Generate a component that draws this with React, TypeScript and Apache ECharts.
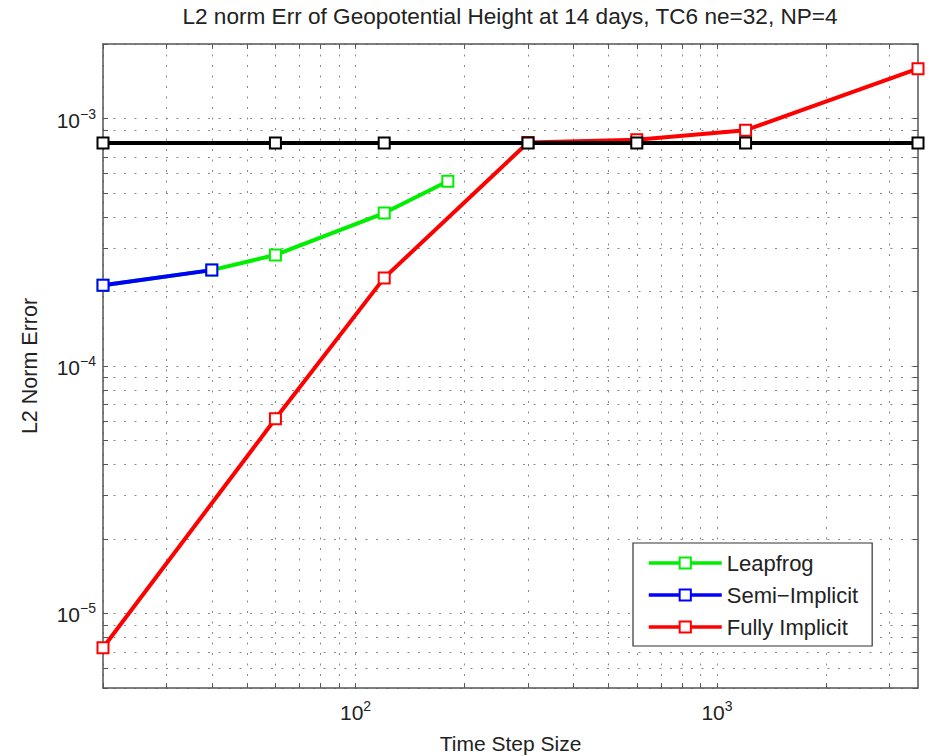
import React, { useEffect, useRef } from "react";
import * as echarts from "echarts";

const titleText = "L2 norm Err of Geopotential Height at 14 days, TC6 ne=32, NP=4";
const xName = "Time Step Size";
const yName = "L2 Norm Error";

const seriesNames = ["Leapfrog", "Semi\u2212Implicit", "Fully Implicit"];

const leapfrogX = [20, 40, 60, 120, 180];
const leapfrogY = [2.12e-4, 2.44e-4, 2.81e-4, 4.15e-4, 5.58e-4];

const semiX = [20, 40];
const semiY = [2.12e-4, 2.44e-4];

const fullyX = [20, 60, 120, 300, 600, 1200, 3600];
const fullyY = [7.27e-6, 6.12e-5, 2.27e-4, 8.0e-4, 8.21e-4, 8.97e-4, 1.59e-3];

const refX = [20, 60, 120, 300, 600, 1200, 3600];
const refY = [7.97e-4, 7.97e-4, 7.97e-4, 7.97e-4, 7.97e-4, 7.97e-4, 7.97e-4];

const xMin = 20;
const xMax = 3600;
const yMin = 5e-6;
const yMax = 2e-3;

const xGridValues = [20, 30, 40, 50, 60, 70, 80, 90, 100, 200, 300, 400, 500, 600, 700, 800, 900, 1000, 2000, 3000];
const yGridValues = [
  5e-6, 6e-6, 7e-6, 8e-6, 9e-6,
  1e-5, 2e-5, 3e-5, 4e-5, 5e-5, 6e-5, 7e-5, 8e-5, 9e-5,
  1e-4, 2e-4, 3e-4, 4e-4, 5e-4, 6e-4, 7e-4, 8e-4, 9e-4,
  1e-3, 2e-3,
];
const xLabelValues = [100, 1000];
const yLabelValues = [1e-5, 1e-4, 1e-3];

const FONT = "Liberation Sans";
const TEXT = "#222";
const AXIS = "#555";

function zip(xs: number[], ys: number[]) {
  return xs.map((x, i) => [x, ys[i]]);
}

function powLabel(v: number) {
  const l = Math.log10(v);
  const e = Math.round(l);
  if (Math.abs(l - e) > 1e-6) return "";
  const es = e < 0 ? "\u2212" + -e : String(e);
  return `{b|10}{s|${es}}`;
}

const rich = {
  b: { fontSize: 21, fontFamily: FONT, color: TEXT, lineHeight: 24, verticalAlign: "bottom" },
  s: { fontSize: 14, fontFamily: FONT, color: TEXT, lineHeight: 14, verticalAlign: "top" },
};

const gridLine = { show: true, lineStyle: { color: "#8a8a8a", width: 1, type: [2, 8.5] } };

export default function App() {
  const ref = useRef<HTMLDivElement>(null);
  useEffect(() => {
    if (!ref.current) return;
    const chart = echarts.init(ref.current, null, { renderer: "svg" });
    const lineSeries = (name: string, data: number[][], color: string, z: number) => ({
      name,
      type: "line",
      data,
      z,
      symbol: "emptyRect",
      symbolSize: 11,
      lineStyle: { color, width: 4 },
      itemStyle: { color, borderColor: color, borderWidth: 3 },
      emphasis: { disabled: true },
    });
    chart.setOption({
      animation: false,
      backgroundColor: "#fff",
      title: {
        text: titleText,
        left: 510,
        textAlign: "center",
        top: 5,
        padding: 0,
        textStyle: { fontFamily: FONT, fontSize: 22.6, fontWeight: "normal", color: TEXT },
      },
      grid: { left: 103, top: 44, width: 815, height: 644, containLabel: false, outerBoundsMode: "none" },
      legend: {
        data: seriesNames,
        orient: "vertical",
        left: 633,
        top: 543,
        padding: [9, 14, 8, 14],
        itemGap: 10,
        itemWidth: 73,
        itemHeight: 14,
        borderColor: "#333",
        borderWidth: 1.2,
        backgroundColor: "#fff",
        lineStyle: { width: 3.5 },
        itemStyle: { borderWidth: 3 },
        textStyle: { fontFamily: FONT, fontSize: 22, color: TEXT },
      },
      xAxis: [
        {
          type: "log",
          min: xMin,
          max: xMax,
          position: "bottom",
          name: xName,
          nameLocation: "middle",
          nameGap: 45,
          nameTextStyle: { fontFamily: FONT, fontSize: 21, color: TEXT },
          axisLine: { show: true, lineStyle: { color: AXIS, width: 1.5 } },
          axisTick: { show: true, inside: true, length: 5, customValues: xGridValues, lineStyle: { color: AXIS } },
          axisLabel: { customValues: xLabelValues, formatter: powLabel, rich, margin: 11 },
          splitLine: gridLine,
          minorTick: { show: false },
        },
        {
          type: "log",
          min: xMin,
          max: xMax,
          position: "top",
          axisLine: { show: true, lineStyle: { color: AXIS, width: 1.5 } },
          axisTick: { show: true, inside: true, length: 5, customValues: xGridValues, lineStyle: { color: AXIS } },
          axisLabel: { show: false },
          splitLine: { show: false },
        },
      ],
      yAxis: [
        {
          type: "log",
          min: yMin,
          max: yMax,
          position: "left",
          name: yName,
          nameLocation: "middle",
          nameGap: 62,
          nameTextStyle: { fontFamily: FONT, fontSize: 21.5, color: TEXT },
          axisLine: { show: true, lineStyle: { color: AXIS, width: 1.5 } },
          axisTick: { show: true, inside: true, length: 5, customValues: yGridValues, lineStyle: { color: AXIS } },
          axisLabel: { customValues: yLabelValues, formatter: powLabel, rich, margin: 7 },
          splitLine: gridLine,
        },
        {
          type: "log",
          min: yMin,
          max: yMax,
          position: "right",
          axisLine: { show: true, lineStyle: { color: AXIS, width: 1.5 } },
          axisTick: { show: true, inside: true, length: 5, customValues: yGridValues, lineStyle: { color: AXIS } },
          axisLabel: { show: false },
          splitLine: { show: false },
        },
      ],
      series: [
        lineSeries(seriesNames[0], zip(leapfrogX, leapfrogY), "#00ee00", 2),
        lineSeries(seriesNames[1], zip(semiX, semiY), "#0000ff", 3),
        lineSeries(seriesNames[2], zip(fullyX, fullyY), "#ff0000", 4),
        lineSeries("Reference", zip(refX, refY), "#000000", 5),
      ],
    });
    return () => chart.dispose();
  }, []);
  return (
    <div
      ref={ref}
      style={{ position: "fixed", left: 0, top: 0, width: 932, height: 756, background: "#fff" }}
    />
  );
}
